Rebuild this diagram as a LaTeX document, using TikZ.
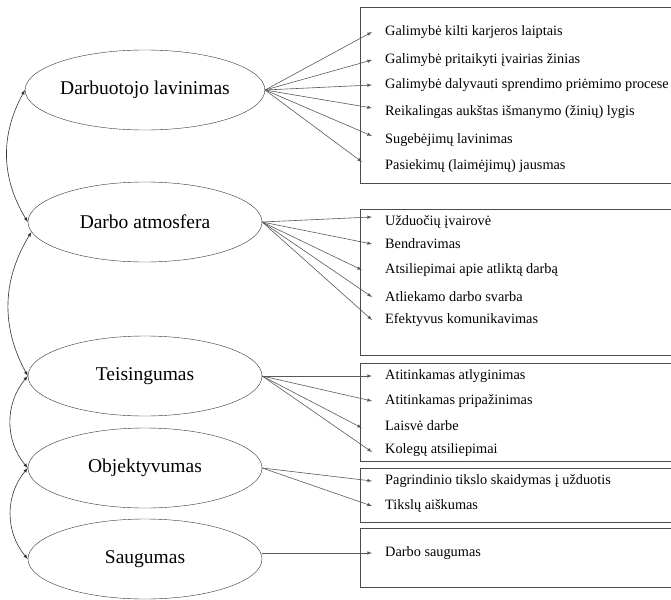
\documentclass[tikz,border=0pt]{standalone}
\usepackage{fontspec}
\setmainfont{Liberation Serif}
\usetikzlibrary{arrows,shapes.geometric}

\tikzset{
  factor/.style={draw=black!80, ellipse, minimum width=234pt, minimum height=80pt,
    inner sep=0pt, font=\fontsize{19.5}{22}\selectfont},
  item/.style={anchor=west, inner xsep=13pt, inner ysep=0pt, font=\fontsize{14.3}{16}\selectfont},
  frame/.style={draw=black!70, line width=1pt},
  link/.style={draw=black!65, line width=0.6pt, -latex},
  loop/.style={draw=black!80, line width=0.6pt, latex-latex},
}

\begin{document}
\begin{tikzpicture}[x=1pt,y=-1pt]
  \useasboundingbox (0,0) rectangle (671,599);

  % factors
  \node[factor] (dl) at (145,90)  {Darbuotojo lavinimas};
  \node[factor] (da) at (145,222) {Darbo atmosfera};
  \node[factor] (te) at (145,376) {Teisingumas};
  \node[factor] (ob) at (145,468) {Objektyvumas};
  \node[factor] (sa) at (145,559) {Saugumas};

  \draw[loop] (dl.west) to[bend right=30] (da.west);
  \draw[loop] (da.185)  to[bend right=30] (te.west);
  \draw[loop] (te.west) to[bend right=40] (ob.west);
  \draw[loop] (ob.west) to[bend right=40] (sa.west);

  % frames
  \draw[frame] (360,8)   rectangle (690,183);
  \draw[frame] (360,209) rectangle (690,355);
  \draw[frame] (360,363) rectangle (690,461);
  \draw[frame] (360,468) rectangle (690,522);
  \draw[frame] (360,528) rectangle (690,587);

  % items
  \node[item] (a1) at (372,32)  {Galimybė kilti karjeros laiptais};
  \node[item] (a2) at (372,60)  {Galimybė pritaikyti įvairias žinias};
  \node[item] (a3) at (372,85)  {Galimybė dalyvauti sprendimo priėmimo procese};
  \node[item] (a4) at (372,112) {Reikalingas aukštas išmanymo (žinių) lygis};
  \node[item] (a5) at (372,140) {Sugebėjimų lavinimas};
  \node[item] (a6) at (372,166) {Pasiekimų (laimėjimų) jausmas};

  \node[item] (b1) at (372,222) {Užduočių įvairovė};
  \node[item] (b2) at (372,244) {Bendravimas};
  \node[item] (b3) at (372,270) {Atsiliepimai apie atliktą darbą};
  \node[item] (b4) at (372,297) {Atliekamo darbo svarba};
  \node[item] (b5) at (372,320) {Efektyvus komunikavimas};

  \node[item] (c1) at (372,376) {Atitinkamas atlyginimas};
  \node[item] (c2) at (372,401) {Atitinkamas pripažinimas};
  \node[item] (c3) at (372,426) {Laisvė darbe};
  \node[item] (c4) at (372,450) {Kolegų atsiliepimai};

  \node[item] (d1) at (372,481) {Pagrindinio tikslo skaidymas į užduotis};
  \node[item] (d2) at (372,506) {Tikslų aiškumas};

  \node[item] (e1) at (372,553) {Darbo saugumas};

  % links
  \draw[link] (dl.east) -- (a1.west);
  \draw[link] (dl.east) -- (a2.west);
  \draw[link] (dl.east) -- (a3.west);
  \draw[link] (dl.east) -- ([yshift=4pt]a4.west);
  \draw[link] (dl.east) -- ([yshift=4pt]a5.west);
  \draw[link] (dl.east) -- ([shift={(-10pt,4pt)}]a6.west);

  \draw[link] (da.east) -- ([yshift=5pt]b1.west);
  \draw[link] (da.east) -- (b2.west);
  \draw[link] (da.east) -- ([xshift=-10pt]b3.west);
  \draw[link] (da.east) -- (b4.west);
  \draw[link] (da.east) -- (b5.west);

  \draw[link] (te.east) -- (c1.west);
  \draw[link] (te.east) -- (c2.west);
  \draw[link] (te.east) -- ([shift={(-10pt,-2pt)}]c3.west);
  \draw[link] (te.east) -- ([yshift=-2pt]c4.west);

  \draw[link] (ob.east) -- (d1.west);
  \draw[link] (ob.east) -- (d2.west);

  \draw[link] (sa.east|-e1.west) -- (e1.west);
\end{tikzpicture}
\end{document}
